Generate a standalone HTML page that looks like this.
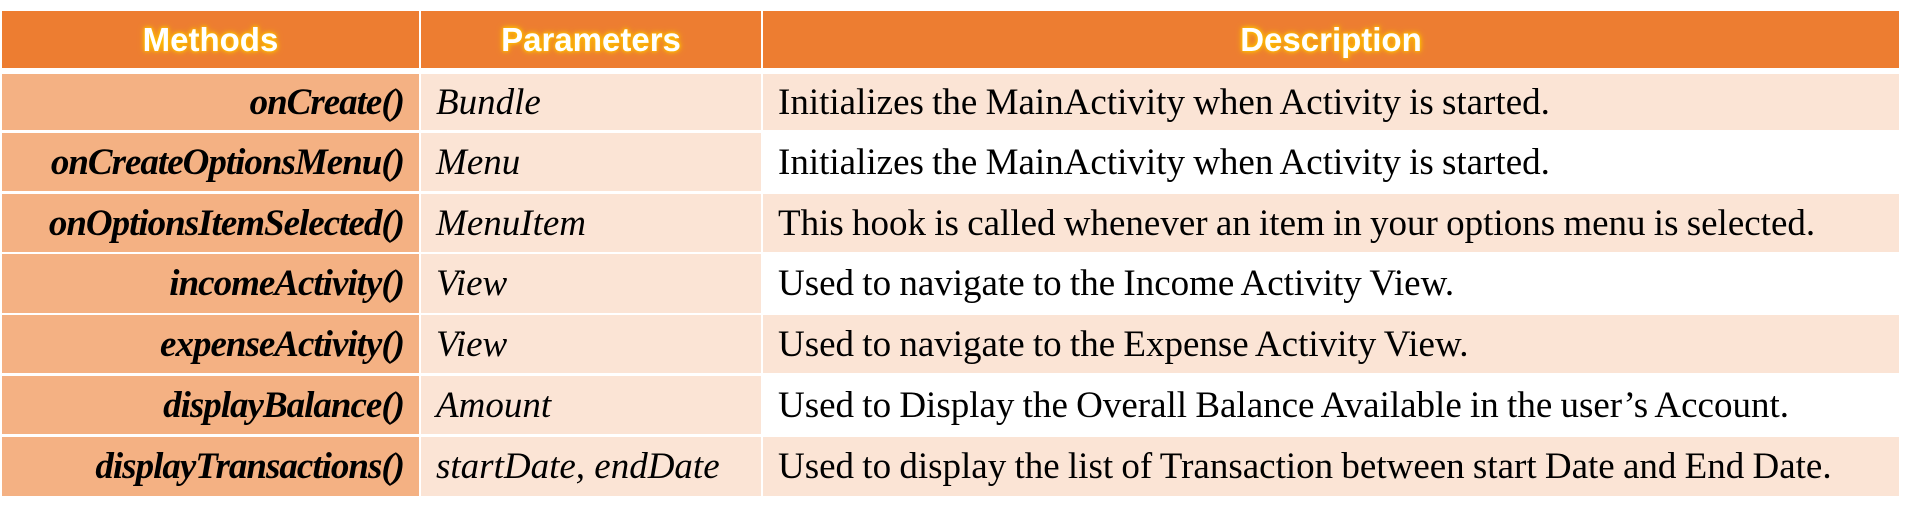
<!DOCTYPE html>
<html><head><meta charset="utf-8"><style>
body{margin:0;width:1906px;height:512px;background:#fff;position:relative;overflow:hidden}
.c{position:absolute;box-sizing:border-box;display:flex;align-items:center;white-space:nowrap}
.h{background:#ED7D31;color:#fff;font:bold 33px "Liberation Sans",sans-serif;justify-content:center;text-shadow:0 0 4px #FFC000,0 0 7px #FFC000,0 0 2px #FFB000}
.m{background:#F4B183;font:italic bold 37px "Liberation Serif",serif;justify-content:flex-end;padding-right:15px;letter-spacing:-1px}
.p{background:#FBE4D5;font:italic 37px "Liberation Serif",serif;padding-left:15px}
.d{font:37px "Liberation Serif",serif;padding-left:15px;word-spacing:-1px;letter-spacing:0}
.l{background:#FBE4D5}.w{background:#fff}
</style></head><body>
<div class="c h" style="left:2px;top:11px;width:417px;height:57px">Methods</div>
<div class="c h" style="left:421px;top:11px;width:340px;height:57px">Parameters</div>
<div class="c h" style="left:763px;top:11px;width:1136px;height:57px">Description</div>

<div class="c m" style="left:2px;top:74px;width:417px;height:56px">onCreate()</div>
<div class="c p" style="left:421px;top:74px;width:340px;height:56px">Bundle</div>
<div class="c d l" style="left:763px;top:74px;width:1136px;height:56px">Initializes the MainActivity when Activity is started.</div>

<div class="c m" style="left:2px;top:133px;width:417px;height:58px">onCreateOptionsMenu()</div>
<div class="c p" style="left:421px;top:133px;width:340px;height:58px">Menu</div>
<div class="c d w" style="left:763px;top:133px;width:1136px;height:58px">Initializes the MainActivity when Activity is started.</div>

<div class="c m" style="left:2px;top:194px;width:417px;height:58px">onOptionsItemSelected()</div>
<div class="c p" style="left:421px;top:194px;width:340px;height:58px">MenuItem</div>
<div class="c d l" style="left:763px;top:194px;width:1136px;height:58px">This hook is called whenever an item in your options menu is selected.</div>

<div class="c m" style="left:2px;top:254px;width:417px;height:59px">incomeActivity()</div>
<div class="c p" style="left:421px;top:254px;width:340px;height:59px">View</div>
<div class="c d w" style="left:763px;top:254px;width:1136px;height:59px">Used to navigate to the Income Activity View.</div>

<div class="c m" style="left:2px;top:315px;width:417px;height:58px">expenseActivity()</div>
<div class="c p" style="left:421px;top:315px;width:340px;height:58px">View</div>
<div class="c d l" style="left:763px;top:315px;width:1136px;height:58px">Used to navigate to the Expense Activity View.</div>

<div class="c m" style="left:2px;top:376px;width:417px;height:58px">displayBalance()</div>
<div class="c p" style="left:421px;top:376px;width:340px;height:58px">Amount</div>
<div class="c d w" style="left:763px;top:376px;width:1136px;height:58px">Used to Display the Overall Balance Available in the user’s Account.</div>

<div class="c m" style="left:2px;top:437px;width:417px;height:59px">displayTransactions()</div>
<div class="c p" style="left:421px;top:437px;width:340px;height:59px">startDate, endDate</div>
<div class="c d l" style="left:763px;top:437px;width:1136px;height:59px">Used to display the list of Transaction between start Date and End Date.</div>
</body></html>
